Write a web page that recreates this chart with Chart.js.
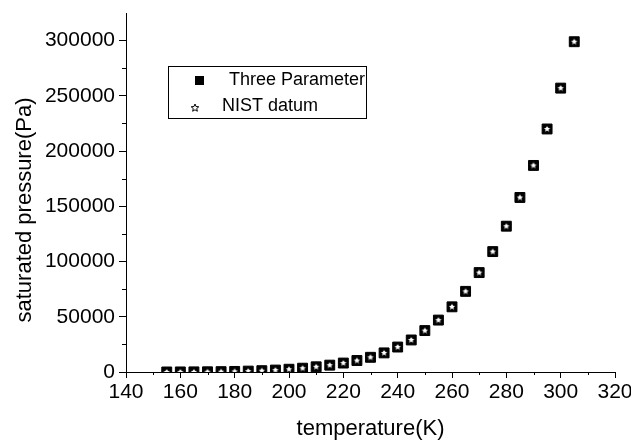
<!DOCTYPE html>
<html>
<head>
<meta charset="utf-8">
<script src="https://cdn.jsdelivr.net/npm/chart.js@4/dist/chart.umd.min.js"></script>
<style>
  html, body { margin: 0; padding: 0; background: #fff; }
  #wrap { width: 631px; height: 442px; }
</style>
</head>
<body>
<div id="wrap"><canvas id="chart" width="631" height="442"></canvas></div>
<script>
// temperature (K)
const temps = [155, 160, 165, 170, 175, 180, 185, 190, 195, 200, 205, 210, 215, 220, 225, 230,
               235, 240, 245, 250, 255, 260, 265, 270, 275, 280, 285, 290, 295, 300, 305];
// saturated pressure (Pa)
const threeParam = [30, 60, 110, 190, 320, 520, 800, 1200, 1750, 2500, 3450, 4700, 6200, 8100, 10400, 13300,
                    17300, 22600, 29000, 37500, 47000, 59000, 73000, 90000, 109000, 132000, 158000, 187000, 220000, 257000, 299000];
const nistDatum = [30, 60, 110, 190, 320, 520, 800, 1200, 1750, 2500, 3450, 4700, 6200, 8100, 10400, 13300,
                   17300, 22600, 29000, 37500, 47000, 59000, 73000, 90000, 109000, 132000, 158000, 187000, 220000, 257000, 299000];
const seriesNames = ['Three Parameter', 'NIST datum'];
const xMajor = [140, 160, 180, 200, 220, 240, 260, 280, 300, 320];
const yMajor = [0, 50000, 100000, 150000, 200000, 250000, 300000];
const yTitle = 'saturated pressure(Pa)';
const xTitle = 'temperature(K)';

const FONT = "'Liberation Sans', Arial, sans-serif";

// five point star marker, white with black outline
function makeStar(size, outer, inner) {
    const c = document.createElement('canvas');
    c.width = size; c.height = size;
    const g = c.getContext('2d');
    const cx = size / 2, cy = size / 2;
    g.beginPath();
    for (let i = 0; i < 10; i++) {
        const r = i % 2 === 0 ? outer : inner;
        const a = -Math.PI / 2 + i * Math.PI / 5;
        const px = cx + r * Math.cos(a), py = cy + r * Math.sin(a);
        if (i === 0) g.moveTo(px, py); else g.lineTo(px, py);
    }
    g.closePath();
    g.fillStyle = '#fff';
    g.fill();
    g.lineWidth = 1;
    g.strokeStyle = '#000';
    g.stroke();
    return c;
}
const starImg = makeStar(12, 4.6, 2);
const legendStar = makeStar(10, 4, 1.8);

const toPoints = vals => temps.map((t, i) => ({ x: t, y: vals[i] }));

// minor ticks, y title and legend box
const extras = {
    id: 'extras',
    afterDraw(chart) {
        const ctx = chart.ctx;
        const xs = chart.scales.x, ys = chart.scales.y;
        const area = chart.chartArea;
        ctx.save();
        ctx.strokeStyle = '#000';
        ctx.lineWidth = 1;
        ctx.beginPath();
        for (let v = 150; v < 320; v += 20) {
            const px = Math.round(xs.getPixelForValue(v)) + 0.5;
            ctx.moveTo(px, area.bottom);
            ctx.lineTo(px, area.bottom + 3);
        }
        for (let v = 25000; v < 325000; v += 50000) {
            const py = Math.round(ys.getPixelForValue(v)) + 0.5;
            ctx.moveTo(area.left, py);
            ctx.lineTo(area.left - 4, py);
        }
        ctx.stroke();

        ctx.fillStyle = '#000';
        // y axis title
        ctx.save();
        ctx.translate(25, 210);
        ctx.rotate(-Math.PI / 2);
        ctx.font = '22px ' + FONT;
        ctx.textAlign = 'center';
        ctx.textBaseline = 'middle';
        ctx.fillText(yTitle, 0, 0);
        ctx.restore();

        // legend
        ctx.strokeRect(168.5, 66.5, 198, 52);
        ctx.fillRect(195, 76, 9, 9);
        ctx.drawImage(legendStar, 190, 103);
        ctx.font = '18px ' + FONT;
        ctx.textBaseline = 'middle';
        ctx.textAlign = 'left';
        ctx.fillText(seriesNames[0], 229, 80);
        ctx.fillText(seriesNames[1], 222, 106);
        ctx.restore();
    }
};

new Chart(document.getElementById('chart'), {
    type: 'scatter',
    data: {
        datasets: [{
            label: seriesNames[0],
            data: toPoints(threeParam),
            pointStyle: 'rect',
            pointRadius: 7,
            backgroundColor: '#000',
            borderColor: '#000',
            borderWidth: 1,
            order: 2
        }, {
            label: seriesNames[1],
            data: toPoints(nistDatum),
            pointStyle: starImg,
            pointRadius: 6,
            order: 1
        }]
    },
    options: {
        responsive: false,
        animation: false,
        events: [],
        layout: { padding: { left: 0, right: 16, top: 13, bottom: 0 } },
        plugins: {
            legend: { display: false },
            tooltip: { enabled: false }
        },
        scales: {
            x: {
                type: 'linear',
                min: 140,
                max: 320,
                afterBuildTicks: s => { s.ticks = xMajor.map(v => ({ value: v })); },
                afterFit: s => { s.height = 70; s.paddingLeft = 0; s.paddingRight = 0; },
                grid: { drawOnChartArea: false, tickLength: 6, tickColor: '#000' },
                border: { color: '#000', width: 1 },
                ticks: { color: '#000', font: { family: FONT, size: 21 }, padding: 2, maxRotation: 0 },
                title: { display: true, text: xTitle, color: '#000', font: { family: FONT, size: 22 }, padding: { top: 0, bottom: 0 } }
            },
            y: {
                type: 'linear',
                min: 0,
                max: 325000,
                afterBuildTicks: s => { s.ticks = yMajor.map(v => ({ value: v })); },
                afterFit: s => { s.width = 126; s.paddingTop = 0; s.paddingBottom = 0; },
                grid: { drawOnChartArea: false, tickLength: 7, tickColor: '#000' },
                border: { color: '#000', width: 1 },
                ticks: { color: '#000', font: { family: FONT, size: 21 }, padding: 4, callback: v => String(v) },
                title: { display: false }
            }
        }
    },
    plugins: [extras]
});
</script>
</body>
</html>
